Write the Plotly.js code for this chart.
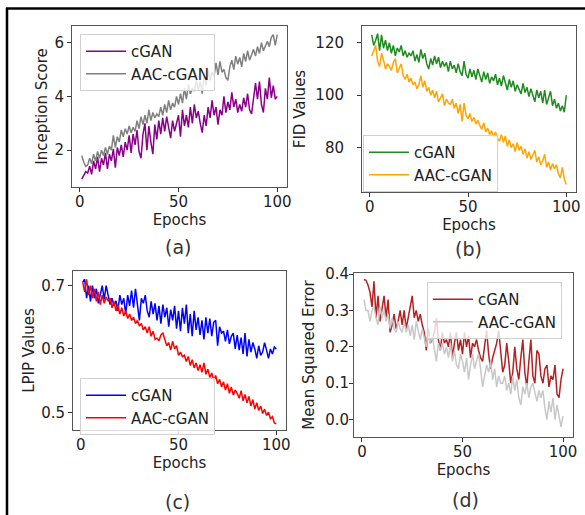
<!DOCTYPE html>
<html>
<head>
<meta charset="utf-8">
<script src="https://cdn.plot.ly/plotly-3.0.1.min.js"></script>
<style>html,body{margin:0;padding:0;background:#fff;}#chart{width:585px;height:515px;}</style>
</head>
<body>
<div id="chart"></div>
<script>
// Epoch index 1..100
const epochs = Array.from({length: 100}, (_, i) => i + 1);
const seriesNames = ["cGAN", "AAC-cGAN"];

// (a) Inception Score
const isCgan = [0.92,1.05,1.2,1.15,1.4,1.1,1.6,1.3,1.75,1.2,
  1.7,1.45,1.9,1.3,1.85,1.6,2.05,1.35,2.1,1.8,
  2.2,1.75,2.3,2.0,2.55,1.9,2.6,2.2,2.75,1.95,
  1.7,2.6,3.0,2.0,2.9,2.3,1.85,2.95,2.4,3.1,
  2.6,3.2,2.7,3.25,2.9,2.45,3.1,2.7,3.0,3.3,
  2.5,3.5,2.9,3.3,2.85,3.6,3.0,3.7,3.2,3.45,
  3.0,2.65,3.3,2.9,3.6,3.2,3.85,3.3,3.6,2.95,
  3.5,3.3,4.0,3.4,3.8,3.5,4.15,3.6,3.9,3.4,
  3.7,3.45,3.95,3.6,4.1,3.5,3.35,4.0,4.5,3.9,
  4.55,3.7,3.4,4.3,3.9,4.7,3.95,4.4,3.9,4.0];
const isAac = [1.8,1.55,1.4,1.45,1.7,1.5,1.85,1.6,1.95,1.7,
  2.0,1.8,2.1,1.85,2.15,2.0,2.55,2.1,2.5,2.3,
  2.75,2.5,2.8,2.6,2.9,2.65,2.85,2.7,3.1,2.8,
  3.25,2.95,3.3,3.0,3.5,3.1,3.4,3.2,3.35,3.25,
  3.6,3.3,3.7,3.4,3.85,3.5,3.75,3.6,4.0,3.7,
  4.1,3.75,4.3,3.9,4.45,4.1,4.3,4.2,4.6,4.25,
  4.55,4.1,4.8,4.4,5.0,4.6,4.9,4.75,5.25,4.8,
  5.3,4.9,5.0,4.7,4.6,5.1,5.35,5.0,5.5,5.2,
  5.45,5.1,5.6,5.3,5.7,5.35,5.55,5.75,5.5,5.85,
  5.6,6.0,5.7,5.9,6.05,5.85,6.2,6.3,5.9,6.3];

// (b) FID
const fidCgan = [123,119,121,123.5,117,123,118,121,117,120,
  116,119,115,118,116.5,119,115,117,114.5,116,
  115,117,113,115.5,112.5,117.5,114,116,112,110,
  114,111.5,115,112,114.5,110.5,113,111,112.5,109,
  113,110,111.5,108.5,112,109,107.5,113,108,106.5,
  110,107,109.5,106,110,107.5,105,109,106,108.5,
  104.5,107,105.5,108,104,106.5,103.5,107.5,104.5,102,
  106,103,105.5,101.5,104,102.5,100.5,104.5,101,103,
  99.5,102.5,100,97.5,102,99,101.5,97,102,96.5,
  99,101.5,96,98.5,95,97,94,96,93.5,100];
const fidAac = [115,117,119,113,111,116,113.5,110,112,111,
  109.5,112.5,114,108.5,110,112,107.5,106,108,105,
  106.5,104,105,102.5,104,107.5,103,105.5,101.5,103,
  100,102,99,101.5,97.5,99,100.5,96,98.5,97,
  96.5,98.5,95,97,93,96.5,90,97,92.5,91,
  93,90,91.5,89,90.5,88.5,87,89.5,86,87.5,
  85,86.5,84,86,83.5,82.5,85,82,84.5,80.5,
  83,80,81.5,78.5,82,79,80.5,77.5,79.5,76,
  78.5,75.5,77,79,74.5,76.5,73.5,75,77.5,72.5,
  74.5,71.5,74,72,73.5,70,68.5,72.5,68,66];

// (c) LPIP
const lpipCgan = [0.705,0.71,0.68,0.70,0.675,0.70,0.68,0.695,0.672,0.685,
  0.70,0.678,0.70,0.685,0.67,0.68,0.668,0.676,0.66,0.685,
  0.67,0.68,0.655,0.685,0.668,0.692,0.665,0.695,0.67,0.645,
  0.68,0.672,0.685,0.66,0.65,0.675,0.655,0.672,0.645,0.668,
  0.64,0.67,0.65,0.665,0.635,0.662,0.645,0.668,0.632,0.66,
  0.628,0.665,0.64,0.67,0.625,0.655,0.62,0.66,0.63,0.65,
  0.622,0.645,0.615,0.65,0.625,0.648,0.62,0.642,0.645,0.605,
  0.635,0.625,0.628,0.612,0.63,0.608,0.62,0.625,0.6,0.622,
  0.598,0.618,0.592,0.625,0.588,0.615,0.595,0.61,0.6,0.585,
  0.605,0.59,0.595,0.61,0.598,0.585,0.60,0.592,0.603,0.60];
const lpipAac = [0.705,0.69,0.71,0.685,0.70,0.68,0.695,0.675,0.69,0.67,
  0.685,0.672,0.682,0.676,0.68,0.665,0.675,0.66,0.67,0.655,
  0.665,0.652,0.66,0.648,0.655,0.645,0.65,0.64,0.645,0.636,
  0.64,0.63,0.635,0.625,0.635,0.62,0.628,0.615,0.617,0.613,
  0.622,0.625,0.615,0.605,0.61,0.598,0.612,0.6,0.605,0.59,
  0.595,0.588,0.59,0.58,0.588,0.574,0.583,0.57,0.578,0.566,
  0.575,0.563,0.578,0.56,0.568,0.555,0.562,0.55,0.558,0.545,
  0.552,0.54,0.548,0.535,0.545,0.53,0.54,0.527,0.535,0.53,
  0.522,0.534,0.518,0.528,0.515,0.525,0.51,0.52,0.505,0.515,
  0.503,0.51,0.498,0.505,0.495,0.5,0.49,0.493,0.483,0.482];

// (d) Mean Squared Error
const mseCgan = [0.385,0.383,0.37,0.35,0.31,0.38,0.28,0.34,0.27,0.31,
  0.34,0.28,0.33,0.24,0.26,0.29,0.25,0.27,0.30,0.26,
  0.30,0.25,0.28,0.31,0.34,0.28,0.30,0.27,0.29,0.26,
  0.24,0.19,0.25,0.21,0.22,0.24,0.28,0.22,0.19,0.24,
  0.21,0.22,0.20,0.24,0.17,0.21,0.24,0.19,0.22,0.18,
  0.24,0.20,0.23,0.17,0.21,0.20,0.22,0.19,0.17,0.16,
  0.20,0.245,0.18,0.14,0.17,0.19,0.21,0.245,0.18,0.13,
  0.15,0.21,0.16,0.10,0.13,0.20,0.14,0.11,0.17,0.22,
  0.13,0.09,0.16,0.22,0.12,0.10,0.19,0.18,0.12,0.10,
  0.14,0.15,0.09,0.12,0.11,0.15,0.07,0.06,0.11,0.14];
const mseAac = [0.33,0.30,0.30,0.27,0.30,0.31,0.28,0.26,0.31,0.28,
  0.30,0.27,0.29,0.25,0.28,0.25,0.24,0.27,0.25,0.24,
  0.27,0.24,0.26,0.23,0.26,0.22,0.27,0.24,0.22,0.25,
  0.22,0.20,0.23,0.21,0.23,0.20,0.16,0.21,0.19,0.21,
  0.18,0.20,0.17,0.21,0.16,0.19,0.15,0.14,0.18,0.16,
  0.13,0.17,0.11,0.15,0.18,0.14,0.16,0.18,0.14,0.09,
  0.12,0.15,0.13,0.16,0.11,0.14,0.09,0.12,0.10,0.10,
  0.12,0.08,0.10,0.07,0.12,0.08,0.11,0.06,0.04,0.09,
  0.07,0.10,0.06,0.09,0.10,0.07,0.05,0.08,0.06,0.08,
  0.03,0.00,0.05,0.02,0.06,0.00,0.04,0.01,-0.02,0.01];

const W = 585, H = 515;
const FONT = "DejaVu Sans, Verdana, sans-serif";
const px = v => v / W;
const py = v => 1 - v / H;

function tr(y, name, color, ax, legend) {
  return {x: epochs, y: y, name: name, type: "scatter", mode: "lines",
    line: {color: color, width: 1.5}, xaxis: "x" + ax, yaxis: "y" + ax, legend: legend};
}

const data = [
  tr(isCgan, seriesNames[0], "#8b008b", "", "legend"),
  tr(isAac, seriesNames[1], "#808080", "", "legend"),
  tr(fidCgan, seriesNames[0], "#1f8b1f", "2", "legend2"),
  tr(fidAac, seriesNames[1], "#ffa500", "2", "legend2"),
  tr(lpipCgan, seriesNames[0], "#0000ff", "3", "legend3"),
  tr(lpipAac, seriesNames[1], "#ff0000", "3", "legend3"),
  tr(mseCgan, seriesNames[0], "#b22222", "4", "legend4"),
  tr(mseAac, seriesNames[1], "#c8c8c8", "4", "legend4"),
];

function xa(d0, d1, anchor) {
  return {domain: [px(d0), px(d1)], anchor: anchor, range: [-3.95, 104.95],
    tickvals: [0, 50, 100], ticks: "outside", ticklen: 4, tickcolor: "#333",
    ticklabelstandoff: -3,
    showline: true, mirror: true, linecolor: "#555", linewidth: 1,
    showgrid: false, zeroline: false, tickfont: {family: FONT, size: 15, color: "#222"},
    title: {text: "Epochs", font: {family: FONT, size: 15, color: "#222"}, standoff: 0}};
}
function ya(top, bottom, anchor, range, tickvals, fmt, title, standoff, lblOff) {
  return {domain: [py(bottom), py(top)], anchor: anchor, range: range,
    tickvals: tickvals, tickformat: fmt, ticks: "outside", ticklen: 4, tickcolor: "#333",
    ticklabelstandoff: lblOff,
    showline: true, mirror: true, linecolor: "#555", linewidth: 1,
    showgrid: false, zeroline: false, tickfont: {family: FONT, size: 15, color: "#222"},
    title: {text: title, font: {family: FONT, size: 15, color: "#222"}, standoff: standoff}};
}
function lg(x, y) {
  return {x: px(x), y: py(y), xanchor: "left", yanchor: "top", itemwidth: 40,
    bgcolor: "rgba(255,255,255,0.8)", bordercolor: "#d0d0d0", borderwidth: 1,
    font: {family: FONT, size: 15, color: "#222"}, tracegroupgap: 0};
}

const layout = {
  width: W, height: H, margin: {l: 0, r: 0, t: 0, b: 0},
  paper_bgcolor: "#fff", plot_bgcolor: "#fff", showlegend: true,
  xaxis: xa(72, 287, "y"),
  yaxis: ya(26, 187, "x", [0.63, 6.62], [2, 4, 6], "d", "Inception Score", 3, 0),
  xaxis2: xa(362, 576, "y2"),
  yaxis2: ya(26, 192, "x2", [63.1, 126.4], [80, 100, 120], "d", "FID Values", 6, 10),
  xaxis3: xa(73, 286, "y3"),
  yaxis3: ya(271, 430, "x3", [0.472, 0.723], [0.5, 0.6, 0.7], ".1f", "LPIP Values", 2, 0),
  xaxis4: xa(354, 573, "y4"),
  yaxis4: ya(273, 437, "x4", [-0.048, 0.403], [0, 0.1, 0.2, 0.3, 0.4], ".1f", "Mean Squared Error", 6, -3),
  legend: lg(80, 34),
  legend2: lg(363, 135),
  legend3: lg(80, 378),
  legend4: lg(427, 282),
  annotations: [
    {text: "(a)", x: px(178), y: py(247)},
    {text: "(b)", x: px(468), y: py(249)},
    {text: "(c)", x: px(178), y: py(502)},
    {text: "(d)", x: px(465), y: py(500)},
  ].map(a => Object.assign(a, {xref: "paper", yref: "paper", showarrow: false,
      xanchor: "center", yanchor: "middle", font: {family: FONT, size: 19, color: "#333"}})),
  shapes: [
    {type: "line", xref: "paper", yref: "paper", x0: px(6), x1: 1, y0: py(8.5), y1: py(8.5), line: {color: "#000", width: 2.5}},
    {type: "line", xref: "paper", yref: "paper", x0: px(7), x1: px(7), y0: py(8), y1: 0, line: {color: "#000", width: 2.5}},
  ],
};

Plotly.newPlot("chart", data, layout, {staticPlot: true, displayModeBar: false});
</script>
</body>
</html>
